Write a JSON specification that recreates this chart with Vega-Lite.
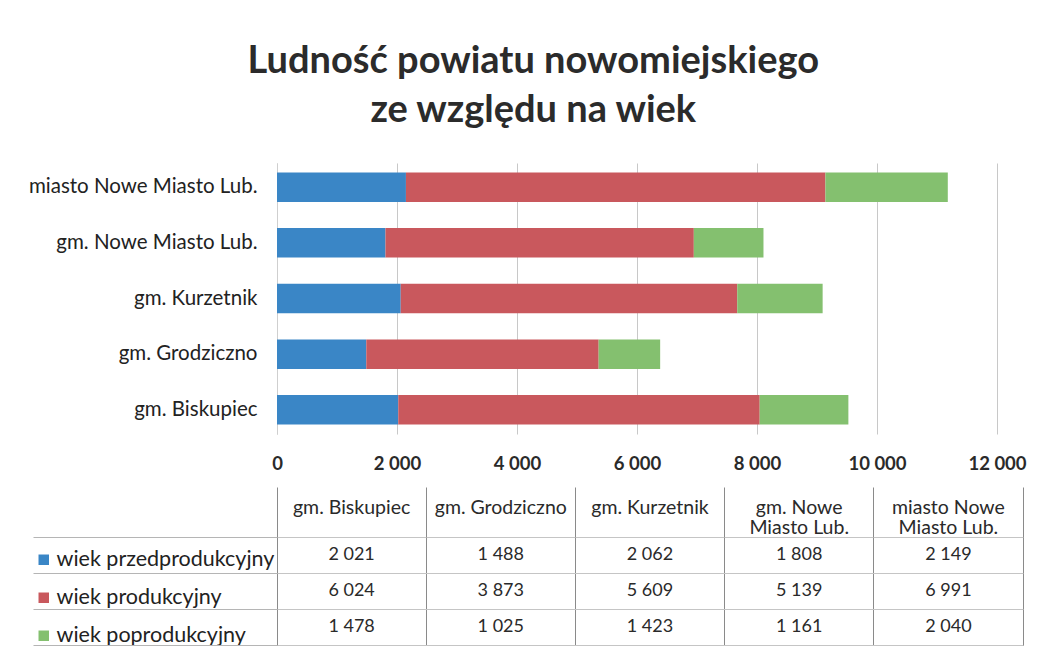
{
  "$schema": "https://vega.github.io/schema/vega-lite/v6.json",
  "background": "white",
  "padding": {"left": 20, "top": 43, "right": 10, "bottom": 8},
  "title": {
    "text": ["Ludność powiatu nowomiejskiego", "ze względu na wiek"],
    "font": "Lato",
    "fontSize": 38,
    "fontWeight": "bold",
    "color": "#2b2b2b",
    "lineHeight": 49,
    "anchor": "middle",
    "dx": 10,
    "offset": 33
  },
  "data": {
    "values": [
      {"gmina": "gm. Biskupiec", "grupa": "wiek przedprodukcyjny", "k": 1, "value": 2021},
      {"gmina": "gm. Biskupiec", "grupa": "wiek produkcyjny", "k": 2, "value": 6024},
      {"gmina": "gm. Biskupiec", "grupa": "wiek poprodukcyjny", "k": 3, "value": 1478},
      {"gmina": "gm. Grodziczno", "grupa": "wiek przedprodukcyjny", "k": 1, "value": 1488},
      {"gmina": "gm. Grodziczno", "grupa": "wiek produkcyjny", "k": 2, "value": 3873},
      {"gmina": "gm. Grodziczno", "grupa": "wiek poprodukcyjny", "k": 3, "value": 1025},
      {"gmina": "gm. Kurzetnik", "grupa": "wiek przedprodukcyjny", "k": 1, "value": 2062},
      {"gmina": "gm. Kurzetnik", "grupa": "wiek produkcyjny", "k": 2, "value": 5609},
      {"gmina": "gm. Kurzetnik", "grupa": "wiek poprodukcyjny", "k": 3, "value": 1423},
      {"gmina": "gm. Nowe Miasto Lub.", "grupa": "wiek przedprodukcyjny", "k": 1, "value": 1808},
      {"gmina": "gm. Nowe Miasto Lub.", "grupa": "wiek produkcyjny", "k": 2, "value": 5139},
      {"gmina": "gm. Nowe Miasto Lub.", "grupa": "wiek poprodukcyjny", "k": 3, "value": 1161},
      {"gmina": "miasto Nowe Miasto Lub.", "grupa": "wiek przedprodukcyjny", "k": 1, "value": 2149},
      {"gmina": "miasto Nowe Miasto Lub.", "grupa": "wiek produkcyjny", "k": 2, "value": 6991},
      {"gmina": "miasto Nowe Miasto Lub.", "grupa": "wiek poprodukcyjny", "k": 3, "value": 2040}
    ]
  },
  "spacing": 13,
  "resolve": {
    "scale": {"color": "independent", "x": "independent", "y": "independent"},
    "legend": {"color": "independent"}
  },
  "vconcat": [
    {
      "width": 720,
      "height": 271,
      "view": {"stroke": null},
      "mark": {"type": "bar"},
      "encoding": {
        "y": {
          "field": "gmina",
          "type": "nominal",
          "sort": ["miasto Nowe Miasto Lub.", "gm. Nowe Miasto Lub.", "gm. Kurzetnik", "gm. Grodziczno", "gm. Biskupiec"],
          "scale": {"paddingInner": 0.47, "paddingOuter": 0.17},
          "axis": {
            "title": null,
            "labelFont": "Lato",
            "labelFontSize": 20.5,
            "labelColor": "#222",
            "labelPadding": 20,
            "labelLimit": 400,
            "ticks": false,
            "domain": true,
            "domainColor": "#cfcfcf",
            "grid": false
          }
        },
        "x": {
          "field": "value",
          "type": "quantitative",
          "stack": "zero",
          "scale": {"domain": [0, 12000], "nice": false},
          "axis": {
            "title": null,
            "values": [0, 2000, 4000, 6000, 8000, 10000, 12000],
            "labelExpr": "format(datum.value, ',')",
            "labelFont": "Lato",
            "labelFontSize": 18.5,
            "labelFontWeight": "bold",
            "labelColor": "#2a2a2a",
            "labelPadding": 20,
            "labelFlush": false,
            "ticks": false,
            "domain": false,
            "grid": true,
            "gridColor": "#c8c8c8"
          }
        },
        "color": {
          "field": "grupa",
          "type": "nominal",
          "scale": {
            "domain": ["wiek przedprodukcyjny", "wiek produkcyjny", "wiek poprodukcyjny"],
            "range": ["#3a86c6", "#c9585d", "#84c06f"]
          },
          "legend": null
        },
        "order": {"field": "k", "type": "quantitative"}
      }
    },
    {
      "width": 746,
      "height": 108,
      "view": {"stroke": "#8a8a8a"},
      "encoding": {
        "x": {
          "field": "gmina",
          "type": "nominal",
          "sort": ["gm. Biskupiec", "gm. Grodziczno", "gm. Kurzetnik", "gm. Nowe Miasto Lub.", "miasto Nowe Miasto Lub."],
          "scale": {"paddingInner": 0, "paddingOuter": 0},
          "axis": {
            "orient": "top",
            "title": null,
            "labelAngle": 0,
            "labelExpr": "datum.value == 'gm. Nowe Miasto Lub.' ? ['gm. Nowe', 'Miasto Lub.'] : datum.value == 'miasto Nowe Miasto Lub.' ? ['miasto Nowe', 'Miasto Lub.'] : datum.value",
            "labelFont": "Lato",
            "labelFontSize": 19.5,
            "labelLineHeight": 20,
            "labelBaseline": "middle",
            "labelColor": "#2a2a2a",
            "labelLimit": 300,
            "bandPosition": 1,
            "tickExtra": true,
            "tickSize": 50,
            "tickColor": "#8a8a8a",
            "labelPadding": -20,
            "grid": true,
            "gridColor": "#8a8a8a",
            "domain": false
          }
        },
        "y": {
          "field": "grupa",
          "type": "nominal",
          "sort": ["wiek przedprodukcyjny", "wiek produkcyjny", "wiek poprodukcyjny"],
          "scale": {"paddingInner": 0, "paddingOuter": 0},
          "axis": {
            "title": null,
            "labels": false,
            "bandPosition": 1,
            "tickExtra": true,
            "tickSize": 244,
            "tickColor": "#b5b5b5",
            "grid": true,
            "gridColor": "#c5c5c5",
            "domain": false
          }
        }
      },
      "layer": [
        {
          "mark": {"type": "rect", "opacity": 0},
          "encoding": {
            "color": {
              "field": "grupa",
              "type": "nominal",
              "scale": {
                "domain": ["wiek przedprodukcyjny", "wiek produkcyjny", "wiek poprodukcyjny"],
                "range": ["#3a86c6", "#c9585d", "#84c06f"]
              },
              "legend": {
                "orient": "left",
                "title": null,
                "symbolType": "square",
                "symbolSize": 110,
                "symbolOpacity": 1,
                "symbolStrokeWidth": 0,
                "labelFont": "Lato",
                "labelFontSize": 21.5,
                "labelColor": "#222",
                "labelLimit": 400,
                "rowPadding": 15,
                "offset": -255,
                "padding": 12,
                "labelOffset": 2
              }
            }
          }
        },
        {
          "mark": {"type": "text", "font": "Lato", "fontSize": 18, "color": "#2a2a2a"},
          "encoding": {
            "text": {"field": "value", "type": "quantitative", "format": ","}
          }
        }
      ]
    }
  ],
  "config": {
    "locale": {
      "number": {"decimal": ",", "thousands": " ", "grouping": [3], "currency": ["", " zł"]}
    },
    "font": "Lato"
  }
}
